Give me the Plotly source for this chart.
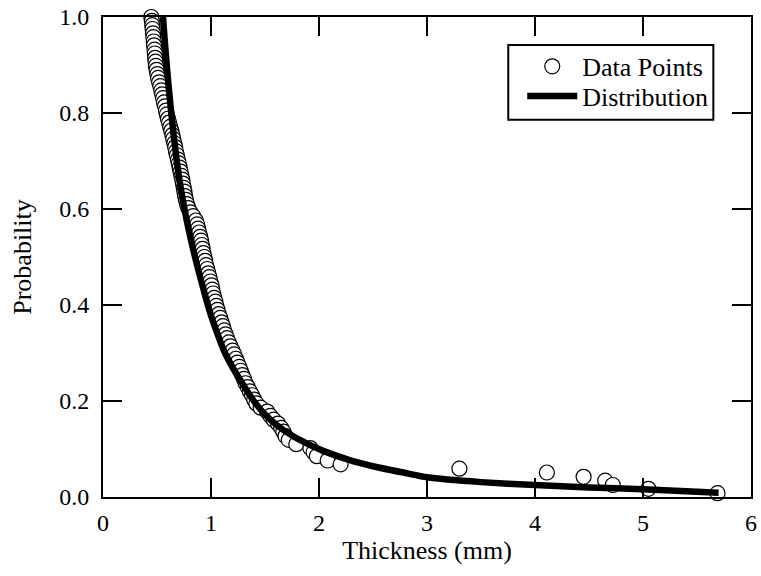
import plotly.graph_objects as go

# Data points (thickness in mm, exceedance probability)
pts_x = [0.447, 0.452, 0.456, 0.459, 0.463, 0.466, 0.470, 0.473, 0.477, 0.480,
         0.483, 0.486, 0.490, 0.496, 0.503, 0.510, 0.520, 0.530, 0.540, 0.548,
         0.556, 0.565, 0.574, 0.583, 0.592, 0.601, 0.612, 0.622, 0.632, 0.642,
         0.650, 0.660, 0.668, 0.676, 0.684, 0.694, 0.702, 0.710, 0.718, 0.726,
         0.734, 0.740, 0.748, 0.754, 0.760, 0.768, 0.778, 0.790, 0.810, 0.835,
         0.860, 0.872, 0.880, 0.890, 0.900, 0.908, 0.915, 0.922, 0.930, 0.938,
         0.946, 0.955, 0.965, 0.975, 0.985, 0.995, 1.005, 1.012, 1.020, 1.030,
         1.040, 1.050, 1.060, 1.072, 1.085, 1.098, 1.110, 1.122, 1.135, 1.148,
         1.165, 1.180, 1.200, 1.215, 1.230, 1.245, 1.262, 1.275, 1.290, 1.305,
         1.320, 1.340, 1.360, 1.380, 1.400, 1.420, 1.460, 1.520, 1.550, 1.580,
         1.620, 1.650, 1.670, 1.690, 1.720, 1.790, 1.920, 1.950, 1.980, 2.080,
         2.200, 3.30, 4.11, 4.45, 4.65, 4.72, 5.05, 5.69]
pts_y = [1.000, 0.992, 0.983, 0.975, 0.966, 0.958, 0.949, 0.941, 0.932, 0.924,
         0.915, 0.907, 0.898, 0.890, 0.881, 0.873, 0.864, 0.856, 0.847, 0.839,
         0.831, 0.822, 0.814, 0.805, 0.797, 0.788, 0.780, 0.771, 0.763, 0.754,
         0.746, 0.737, 0.729, 0.720, 0.712, 0.703, 0.695, 0.686, 0.678, 0.669,
         0.661, 0.653, 0.644, 0.636, 0.627, 0.619, 0.610, 0.602, 0.593, 0.585,
         0.576, 0.568, 0.559, 0.551, 0.542, 0.534, 0.525, 0.517, 0.508, 0.500,
         0.492, 0.483, 0.475, 0.466, 0.458, 0.449, 0.441, 0.432, 0.424, 0.415,
         0.407, 0.398, 0.390, 0.381, 0.373, 0.364, 0.356, 0.347, 0.339, 0.331,
         0.322, 0.314, 0.305, 0.297, 0.288, 0.280, 0.271, 0.263, 0.254, 0.246,
         0.237, 0.229, 0.220, 0.212, 0.203, 0.195, 0.186, 0.178, 0.169, 0.161,
         0.153, 0.144, 0.136, 0.127, 0.119, 0.110, 0.102, 0.093, 0.085, 0.076,
         0.068, 0.059, 0.051, 0.042, 0.034, 0.025, 0.017, 0.008]

# Fitted distribution curve
dist_x = [0.555, 0.572, 0.590, 0.610, 0.632, 0.656, 0.683, 0.708, 0.738, 0.772,
          0.810, 0.852, 0.898, 0.952, 1.005, 1.06, 1.12, 1.20, 1.28, 1.38,
          1.50, 1.62, 1.75, 1.90, 2.05, 2.27, 2.54, 2.80, 3.00, 3.50,
          4.00, 4.50, 5.00, 5.40, 5.70]
dist_y = [1.00, 0.95, 0.90, 0.85, 0.80, 0.75, 0.70, 0.66, 0.62, 0.58,
          0.54, 0.50, 0.46, 0.415, 0.375, 0.34, 0.305, 0.27, 0.24, 0.205,
          0.172, 0.148, 0.128, 0.110, 0.095, 0.078, 0.062, 0.050, 0.041, 0.031,
          0.025, 0.020, 0.016, 0.012, 0.009]

x_ticks = [0, 1, 2, 3, 4, 5, 6]
y_ticks = [0.0, 0.2, 0.4, 0.6, 0.8, 1.0]

FONT = "Liberation Serif"

fig = go.Figure()
fig.add_trace(go.Scatter(
    x=pts_x, y=pts_y, mode="markers", name="Data Points",
    marker=dict(symbol="circle", size=15, color="white",
                line=dict(color="black", width=1.2)),
    cliponaxis=False, legend="legend",
))
fig.add_trace(go.Scatter(
    x=dist_x, y=dist_y, mode="lines", name="Distribution",
    line=dict(color="black", width=6.5, shape="spline", smoothing=0.5),
    cliponaxis=False, legend="legend2",
))

axis_common = dict(
    showline=True, linecolor="black", linewidth=2, mirror="ticks",
    ticks="inside", ticklen=19, tickwidth=2, tickcolor="black",
    showgrid=False, zeroline=False,
    tickfont=dict(family=FONT, size=24, color="black"),
    title_font=dict(family=FONT, size=26, color="black"),
)

fig.update_xaxes(range=[0, 6], tickvals=x_ticks, ticktext=[str(v) for v in x_ticks],
                 title_text="Thickness (mm)", title_standoff=5,
                 ticklabelstandoff=3, **axis_common)
fig.update_yaxes(range=[0, 1.0], tickvals=y_ticks, ticktext=[f"{v:.1f}" for v in y_ticks],
                 title_text="Probability", title_standoff=20,
                 ticklabelstandoff=7, **axis_common)

# legend frame (paper coordinates)
fig.add_shape(type="rect", xref="paper", yref="paper",
              x0=0.6254, x1=0.9419, y0=0.7859, y1=0.9418,
              line=dict(color="black", width=2), fillcolor="white", layer="above")

leg_common = dict(
    xanchor="left", yanchor="top",
    bgcolor="rgba(0,0,0,0)", borderwidth=0,
    font=dict(family=FONT, size=26, color="black"),
    tracegroupgap=0, itemwidth=50,
)

fig.update_layout(
    width=761, height=576,
    margin=dict(l=103, r=4, t=16, b=79),
    paper_bgcolor="white", plot_bgcolor="white",
    font=dict(family=FONT, size=24, color="black"),
    legend=dict(x=0.647, y=0.946, **leg_common),
    legend2=dict(x=0.647, y=0.884, **leg_common),
    showlegend=True,
)

fig.write_html("out.html")
